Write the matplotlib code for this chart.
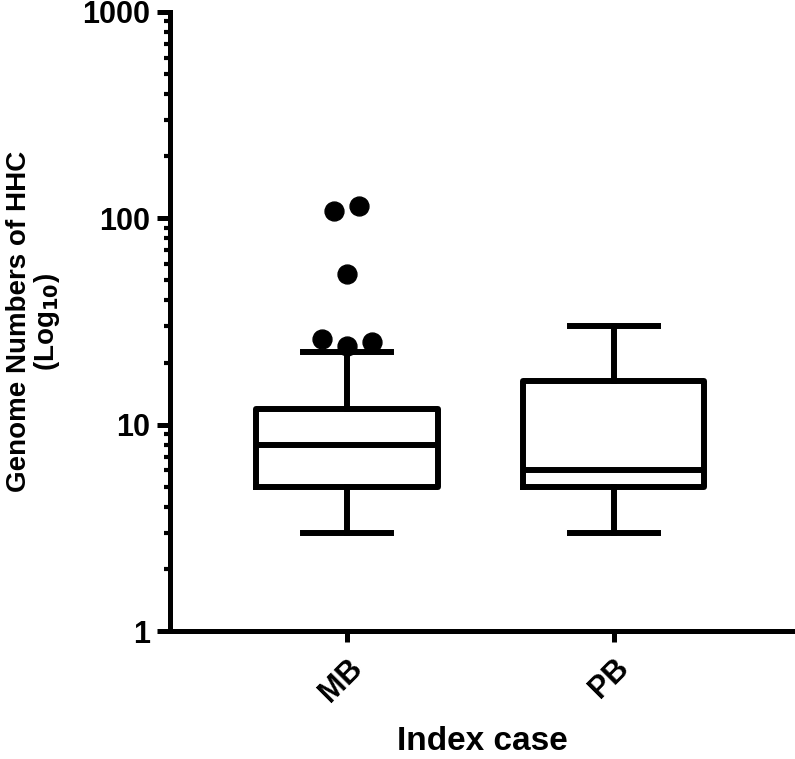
import matplotlib
matplotlib.use("Agg")
import matplotlib.pyplot as plt
from matplotlib.ticker import LogLocator, NullFormatter, FixedLocator, FixedFormatter

plt.rcParams['font.family'] = ['Liberation Sans', 'DejaVu Sans']

# box statistics
groups = ['MB', 'PB']
medians = [8.0, 6.0]
q1s = [5.0, 5.0]
q3s = [11.9, 16.2]
whis_lo = [3.0, 3.0]
whis_hi = [22.5, 30.0]
# outliers (MB only), with small horizontal spread as in the figure
mb_outliers = [26.0, 108.5, 24.1, 115.0, 25.2]
mb_out_dx = [-0.094, -0.047, 0.0, 0.047, 0.094]
mb_mid_out = 53.8

stats = []
for i, g in enumerate(groups):
    stats.append(dict(label=g, med=medians[i], q1=q1s[i], q3=q3s[i],
                      whislo=whis_lo[i], whishi=whis_hi[i], fliers=[]))

fig = plt.figure(figsize=(7.95, 7.59), dpi=100)
ax = fig.add_axes([0.2138, 0.1686, 0.7862, 0.8156])

lw = 4.3
ax.bxp(stats, positions=[1, 2], widths=0.68, showfliers=False,
       boxprops=dict(color='black', linewidth=lw),
       medianprops=dict(color='black', linewidth=lw),
       whiskerprops=dict(color='black', linewidth=lw),
       capprops=dict(color='black', linewidth=lw),
       capwidths=0.33)

xs = [1 + d for d in mb_out_dx] + [1.0]
ys = mb_outliers + [mb_mid_out]
ax.scatter(xs, ys, s=185, color='black', zorder=5, clip_on=False)

ax.set_yscale('log')
ax.set_ylim(1, 1000)
ax.set_xlim(0.337, 2.68)

ax.yaxis.set_major_locator(FixedLocator([1, 10, 100, 1000]))
ax.yaxis.set_major_formatter(FixedFormatter(['1', '10', '100', '1000']))
ax.yaxis.set_minor_locator(LogLocator(base=10, subs=range(2, 10)))
ax.yaxis.set_minor_formatter(NullFormatter())

ax.set_xticks([1, 2])
ax.set_xticklabels(groups, rotation=45, ha='right', rotation_mode='anchor')

for side in ['top', 'right']:
    ax.spines[side].set_visible(False)
for side in ['left', 'bottom']:
    ax.spines[side].set_linewidth(3.6)

ax.tick_params(axis='y', which='major', length=9.5, width=3.6, labelsize=22, pad=5)
ax.tick_params(axis='y', which='minor', length=4.5, width=3.0)
ax.tick_params(axis='x', which='major', length=8, width=3.6, labelsize=22, pad=8)
for lab in ax.get_xticklabels() + ax.get_yticklabels():
    lab.set_fontweight('bold')

ax.set_ylabel('Genome Numbers of HHC\n(Log$_{\\mathbf{10}}$)', fontsize=20,
              fontweight='bold', labelpad=14, linespacing=1.0)
ax.set_xlabel('Index case', fontsize=24, fontweight='bold', labelpad=13)

fig.savefig('out.png', dpi=100)
